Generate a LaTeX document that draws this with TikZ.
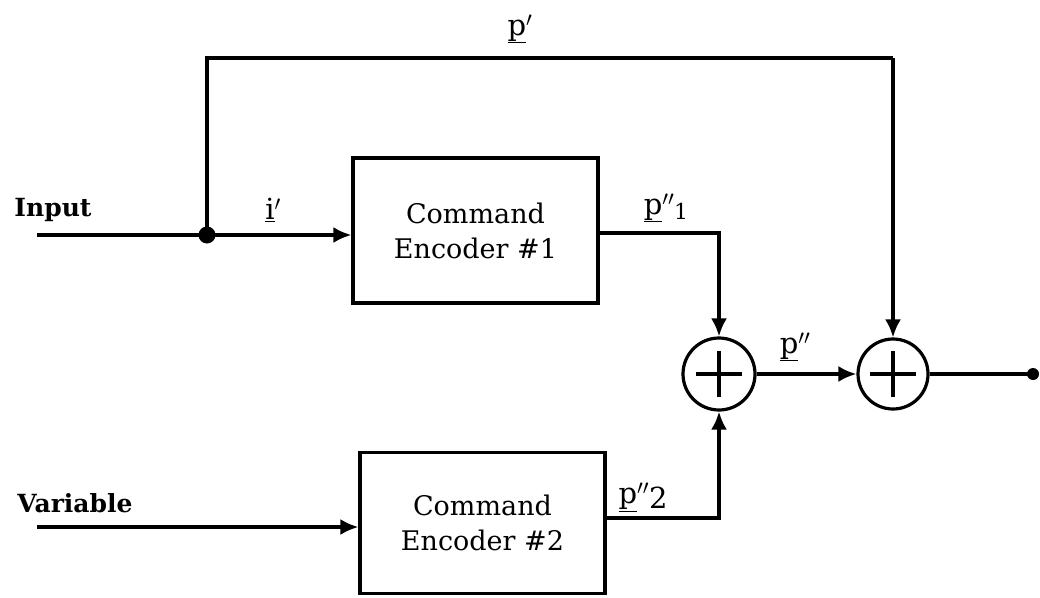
\documentclass[tikz,border=0pt]{standalone}
\usepackage{fontspec}
\setmainfont{DejaVu Serif}
\usetikzlibrary{arrows.meta}
\begin{document}
\begin{tikzpicture}[x=1pt,y=-1pt,
  wire/.style={line width=3.2pt},
  arr/.style={wire,-{Latex[length=18pt,width=16pt]}},
  block/.style={draw,line width=3.2pt,minimum width=245pt,inner sep=0pt,align=center,font=\fontsize{27}{35}\selectfont},
  summer/.style={draw,circle,line width=3.2pt,minimum size=72pt,inner sep=0pt,
    path picture={\draw[line width=3.2pt] ([xshift=-23pt]path picture bounding box.center) -- ([xshift=23pt]path picture bounding box.center);
                  \draw[line width=3.2pt] ([yshift=-23pt]path picture bounding box.center) -- ([yshift=23pt]path picture bounding box.center);}},
  lab/.style={font=\fontsize{29}{32}\selectfont},
  dotnode/.style={circle,fill,inner sep=0pt,minimum size=17pt}
]
\useasboundingbox (0,0) rectangle (1040,597);
% nodes
\coordinate (in) at (37,235);
\node[dotnode] (J) at (207,235) {};
\node[block,minimum height=145pt] (b1) at (475.5,230.5) {Command\\Encoder \#1};
\node[block,minimum height=141pt] (b2) at (482.5,523) {Command\\Encoder \#2};
\coordinate (var) at (37,527);
\node[summer] (s1) at (719,374) {};
\node[summer,minimum size=70pt] (s2) at (893,374) {};
\coordinate (tl) at (207,58);
\coordinate (tr) at (893,58);
\node[dotnode,minimum size=12pt] (out) at (1033,374) {};
% labels
\node[font=\fontsize{25}{28}\bfseries\selectfont] (tin) at (53,210) {Input};
\node[font=\fontsize{25}{28}\bfseries\selectfont] (tvar) at (75,503) {Variable};
\node[lab] (li) at (273,210) {\underline{i}$'$};
\node[lab] (lp) at (520,29) {\underline{p}$'$};
\node[lab] (lp1) at (666,208) {\underline{p}$''$\raisebox{-5pt}{\fontsize{22}{24}\selectfont 1}};
\node[lab] (lp2) at (643,497) {\underline{p}$''$\raisebox{-5pt}{2}};
\node[lab] (lpp) at (795,347) {\underline{p}$''$};
% connectors
\draw[wire] (in) -- (J.center);
\draw[arr] (J.center) -- (b1.west |- J);
\draw[wire] (J.center) -- (tl) -- (tr);
\draw[arr] (tr) -- (s2.north);
\draw[arr] (b1.east |- 0,233) -| (s1.north);
\draw[arr] (b2.east |- 0,518) -| (s1.south);
\draw[arr] (var) -- (b2.west |- var);
\draw[arr] (s1.east) -- (s2.west);
\draw[wire] (s2.east) -- (out.center);
\end{tikzpicture}
\end{document}
